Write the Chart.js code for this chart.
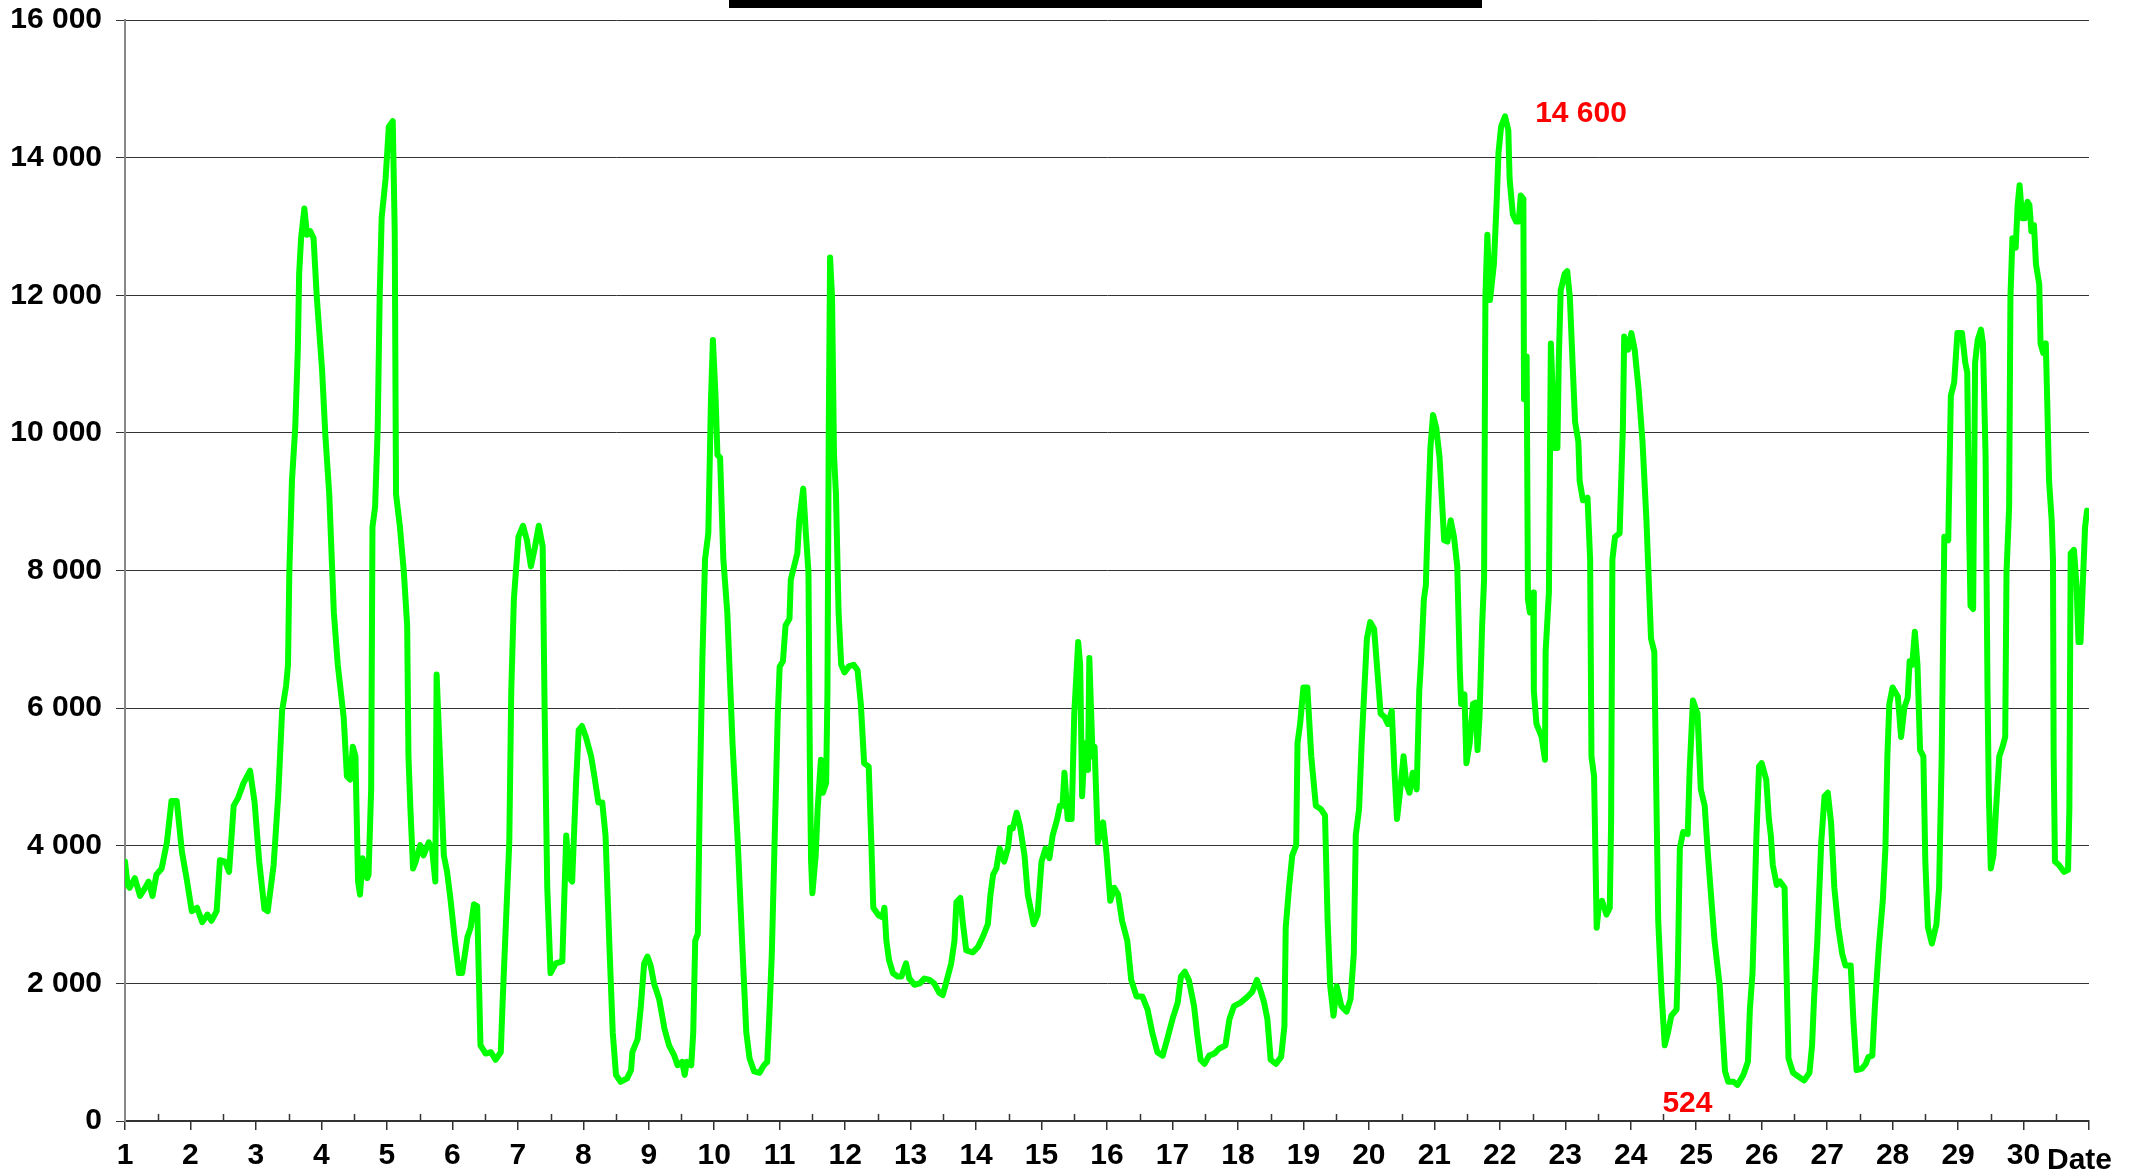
<!DOCTYPE html>
<html>
<head>
<meta charset="utf-8">
<script src="https://cdn.jsdelivr.net/npm/chart.js@4.4.1/dist/chart.umd.min.js"></script>
<style>
  html, body { margin: 0; padding: 0; background: #fff; }
</style>
</head>
<body>
<canvas id="traffic" width="2138" height="1174"></canvas>
<script>
// time of each reading, in days (1 = start of day 1)
const dayTimes = [
  1.00, 1.04, 1.07, 1.15, 1.23, 1.31, 1.36, 1.42, 1.48, 1.56, 1.64, 1.71, 1.79, 1.87, 1.94,
  2.02, 2.10, 2.18, 2.26, 2.32, 2.40, 2.45, 2.53, 2.59, 2.66, 2.73, 2.81, 2.91, 2.98,
  3.05, 3.13, 3.18, 3.27, 3.34, 3.40, 3.46, 3.49, 3.51, 3.55, 3.60, 3.64, 3.66, 3.69, 3.74, 3.78, 3.83, 3.88, 3.93,
  4.01, 4.06, 4.12, 4.19, 4.25, 4.34, 4.39, 4.44, 4.48, 4.52, 4.56, 4.59, 4.63, 4.70, 4.72, 4.76, 4.78, 4.82, 4.86, 4.89, 4.92, 4.98,
  5.03, 5.09, 5.12, 5.14, 5.20, 5.26, 5.31, 5.33, 5.36, 5.40, 5.44, 5.51, 5.56, 5.64, 5.69, 5.74, 5.76, 5.81, 5.87, 5.92, 5.97,
  6.04, 6.10, 6.15, 6.23, 6.28, 6.33, 6.38, 6.43, 6.51, 6.59, 6.66, 6.74, 6.77, 6.82, 6.87, 6.90, 6.94,
  7.01, 7.08, 7.14, 7.20, 7.26, 7.32, 7.38, 7.41, 7.45, 7.50, 7.58, 7.68, 7.71, 7.74, 7.79, 7.83, 7.89, 7.93, 7.98,
  8.04, 8.12, 8.17, 8.23, 8.29, 8.34, 8.40, 8.45, 8.50, 8.57, 8.67, 8.73, 8.75, 8.83, 8.88, 8.93, 8.98,
  9.03, 9.08, 9.16, 9.24, 9.31, 9.39, 9.44, 9.51, 9.55, 9.58, 9.65, 9.68, 9.71, 9.75, 9.78, 9.82, 9.86, 9.91, 9.95, 9.98,
  10.02, 10.05, 10.09, 10.14, 10.20, 10.28, 10.36, 10.43, 10.49, 10.54, 10.61, 10.69, 10.76, 10.81, 10.84, 10.88, 10.93, 10.97,
  11.00, 11.05, 11.09, 11.15, 11.17, 11.22, 11.27, 11.30, 11.36, 11.40, 11.44, 11.46, 11.48, 11.50, 11.55, 11.58, 11.63, 11.66, 11.71, 11.73, 11.75, 11.77, 11.80, 11.83, 11.86, 11.90, 11.94, 11.99,
  12.06, 12.13, 12.19, 12.24, 12.29, 12.36, 12.40, 12.43, 12.51, 12.57, 12.60, 12.63, 12.67, 12.73, 12.80, 12.86, 12.93, 12.98,
  13.06, 13.14, 13.21, 13.29, 13.36, 13.44, 13.49, 13.54, 13.62, 13.67, 13.70, 13.76, 13.80, 13.85, 13.95,
  14.03, 14.10, 14.18, 14.22, 14.26, 14.31, 14.36, 14.43, 14.49, 14.52, 14.56, 14.62, 14.67, 14.74, 14.79, 14.83, 14.88, 14.94,
  15.00, 15.06, 15.12, 15.17, 15.24, 15.28, 15.32, 15.35, 15.40, 15.46, 15.50, 15.56, 15.59, 15.62, 15.66, 15.71, 15.73, 15.78, 15.81, 15.86, 15.94, 15.99,
  16.05, 16.11, 16.17, 16.23, 16.31, 16.37, 16.45, 16.54, 16.62, 16.69, 16.77, 16.85, 16.92,
  17.00, 17.08, 17.13, 17.19, 17.25, 17.33, 17.38, 17.43, 17.49, 17.56, 17.64, 17.71, 17.81, 17.87, 17.94,
  18.04, 18.15, 18.22, 18.29, 18.35, 18.40, 18.45, 18.50, 18.58, 18.66, 18.71, 18.73, 18.78, 18.83, 18.89, 18.91, 18.95,
  19.00, 19.06, 19.12, 19.19, 19.27, 19.33, 19.37, 19.41, 19.46, 19.51, 19.58, 19.66, 19.72, 19.77, 19.80, 19.85, 19.89, 19.93, 19.97,
  20.02, 20.08, 20.13, 20.18, 20.24, 20.29, 20.35, 20.39, 20.43, 20.48, 20.53, 20.57, 20.62, 20.67, 20.73, 20.77, 20.80, 20.84, 20.87, 20.90, 20.94, 20.98,
  21.03, 21.08, 21.15, 21.20, 21.25, 21.30, 21.35, 21.39, 21.41, 21.46, 21.49, 21.54, 21.59, 21.63, 21.66, 21.69, 21.73, 21.76, 21.78, 21.81, 21.85, 21.91, 21.95, 21.98,
  22.02, 22.08, 22.13, 22.15, 22.20, 22.25, 22.29, 22.32, 22.36, 22.37, 22.41, 22.43, 22.46, 22.51, 22.52, 22.56, 22.64, 22.69, 22.70, 22.75, 22.78, 22.81, 22.84, 22.88, 22.90, 22.93, 22.99,
  23.03, 23.07, 23.12, 23.15, 23.20, 23.22, 23.27, 23.34, 23.38, 23.40, 23.44, 23.48, 23.51, 23.56, 23.63, 23.68, 23.70, 23.72, 23.76, 23.83, 23.88, 23.90, 23.96,
  24.01, 24.06, 24.12, 24.18, 24.24, 24.31, 24.36, 24.39, 24.42, 24.47, 24.52, 24.57, 24.62, 24.70, 24.72, 24.75, 24.80, 24.87, 24.90, 24.95,
  25.02, 25.07, 25.13, 25.18, 25.28, 25.36, 25.44, 25.49, 25.57, 25.63, 25.72, 25.79, 25.82, 25.86, 25.89, 25.92, 25.96,
  26.00, 26.07, 26.11, 26.14, 26.17, 26.23, 26.28, 26.35, 26.38, 26.41, 26.48, 26.57, 26.65, 26.73, 26.77, 26.80, 26.85, 26.91, 26.96,
  27.01, 27.06, 27.11, 27.17, 27.23, 27.28, 27.36, 27.40, 27.45, 27.53, 27.59, 27.63, 27.69, 27.73, 27.79, 27.85, 27.89, 27.92, 27.95,
  28.00, 28.08, 28.13, 28.18, 28.23, 28.26, 28.30, 28.34, 28.38, 28.42, 28.47, 28.50, 28.54, 28.60, 28.67, 28.71, 28.75, 28.79, 28.85, 28.89, 28.94, 28.99,
  29.06, 29.11, 29.14, 29.17, 29.19, 29.23, 29.26, 29.30, 29.35, 29.38, 29.42, 29.45, 29.47, 29.50, 29.54, 29.58, 29.63, 29.68, 29.72, 29.74, 29.78, 29.80, 29.83, 29.88, 29.91, 29.94, 29.98,
  30.02, 30.06, 30.09, 30.12, 30.16, 30.19, 30.24, 30.26, 30.30, 30.34, 30.36, 30.39, 30.43, 30.45, 30.46, 30.48, 30.54, 30.62, 30.68, 30.70, 30.72, 30.77, 30.81, 30.84, 30.87, 30.90, 30.94, 30.97, 31.00
];

// reading at each of those times
const trafficValues = [
  3770, 3430, 3390, 3530, 3270, 3390, 3480, 3270, 3580, 3670, 4050, 4650, 4650, 3910, 3530,
  3050, 3100, 2890, 3000, 2910, 3050, 3790, 3770, 3620, 4580, 4700, 4910, 5090, 4630,
  3770, 3080, 3050, 3720, 4720, 5960, 6320, 6630, 7970, 9300, 10070, 11210, 12310, 12830, 13260, 12880, 12930, 12830, 11970,
  10920, 9970, 9110, 7390, 6630, 5870, 5010, 4960, 5440, 5300, 3480, 3290, 3820, 3530, 3580, 4820, 8630, 8920, 10070, 11970, 13120, 13690,
  14450, 14530, 12930, 9110, 8630, 7970, 7200, 5300, 4530, 3670, 3770, 4010, 3860, 4050, 3960, 3480, 6490, 5300, 3860, 3620, 3240,
  2620, 2150, 2150, 2670, 2810, 3150, 3120, 1100, 980, 1000, 890, 1000, 1770, 2910, 4050, 6250, 7580,
  8490, 8650, 8440, 8060, 8330, 8650, 8350, 5960, 3390, 2150, 2290, 2320, 3240, 4150, 3530, 3480, 4910, 5680, 5740,
  5580, 5300, 5010, 4630, 4630, 4150, 2530, 1290, 670, 570, 620, 740, 1000, 1190, 1670, 2290, 2390,
  2260, 2000, 1770, 1340, 1100, 950, 810, 860, 670, 860, 810, 1290, 2620, 2720, 4720, 6730, 8160, 8540, 10450, 11350,
  10540, 9680, 9640, 8160, 7390, 5490, 4050, 2530, 1290, 910, 720, 700, 810, 860, 1480, 2430, 4340, 5870,
  6600, 6680, 7200, 7300, 7870, 8060, 8250, 8730, 9190, 8540, 7970, 5300, 3770, 3310, 3860, 4530, 5250, 4770, 4910, 6250, 10070, 12550, 11970, 9680, 9110, 7390, 6630, 6520,
  6610, 6630, 6550, 6060, 5200, 5150, 4050, 3100, 2990, 2960, 3100, 2620, 2340, 2150, 2100, 2100, 2290, 2070,
  1980, 2000, 2070, 2050, 2000, 1860, 1830, 2000, 2290, 2620, 3180, 3240, 2860, 2480, 2450,
  2530, 2670, 2860, 3290, 3580, 3670, 3960, 3770, 3980, 4260, 4250, 4480, 4290, 3860, 3290, 3100, 2860, 3000,
  3770, 3960, 3820, 4150, 4390, 4580, 4580, 5060, 4390, 4390, 5920, 6960, 6630, 4720, 5490, 5100, 6730, 5300, 5440, 4050, 4340, 3910,
  3200, 3390, 3290, 2910, 2620, 2050, 1810, 1810, 1620, 1290, 1000, 950, 1190,
  1480, 1720, 2100, 2170, 2050, 1670, 1240, 890, 830, 950, 980, 1050, 1100, 1480, 1670,
  1720, 1810, 1880, 2050, 1880, 1720, 1480, 890, 830, 930, 1380, 2810, 3390, 3860, 4010, 5490, 5770,
  6300, 6300, 5300, 4580, 4530, 4440, 2910, 1960, 1530, 1960, 1670, 1590, 1770, 2430, 4150, 4530, 5490, 6250, 7010,
  7250, 7150, 6540, 5920, 5870, 5770, 5960, 5100, 4390, 4820, 5300, 4910, 4770, 5060, 4820, 6250, 6730, 7580, 7780, 8730, 9780, 10260,
  10070, 9640, 8440, 8420, 8730, 8490, 8060, 6540, 6060, 6200, 5200, 5490, 6060, 6080, 5390, 5870, 7200, 7870, 11970, 12880, 11930, 12450, 13310, 14070,
  14450, 14600, 14400, 13690, 13170, 13070, 13070, 13450, 13400, 10490, 11110, 7580, 7390, 7680, 6250, 5770, 5580, 5250, 6820, 7680, 11300, 10540, 9780, 9780, 11020, 12070, 12310,
  12350, 11970, 10830, 10160, 9870, 9300, 9020, 9060, 8160, 5300, 5010, 2810, 3100, 3200, 3000, 3100, 4340, 8160, 8490, 8540, 10070, 11400, 11210,
  11450, 11210, 10640, 9870, 8730, 7010, 6820, 4820, 2910, 1860, 1100, 1290, 1530, 1620, 2240, 3960, 4200, 4170, 5100, 6110,
  5920, 4820, 4580, 3860, 2620, 1960, 720, 570, 570, 524, 670, 860, 1620, 2150, 3100, 4150, 5150,
  5200, 4960, 4390, 4150, 3720, 3430, 3480, 3390, 2150, 910, 700, 640, 590, 700, 1100, 1770, 2620, 4050, 4720,
  4770, 4340, 3390, 2810, 2430, 2260, 2260, 1480, 740, 760, 830, 930, 950, 1670, 2530, 3200, 3960, 5300, 6060,
  6300, 6170, 5580, 6010, 6150, 6680, 6630, 7110, 6630, 5390, 5300, 3770, 2810, 2580, 2860, 3390, 5300, 8490, 8440, 10540, 10730, 11450,
  11450, 11020, 10880, 8540, 7490, 7440, 11020, 11350, 11500, 11300, 9680, 6250, 4720, 3670, 3860, 4530, 5300, 5440, 5580, 7970, 8920, 11970, 12830, 12690, 13310, 13600, 13120,
  13120, 13360, 13310, 12930, 13020, 12450, 12160, 11300, 11160, 11300, 10540, 9300, 8730, 8160, 5300, 3770, 3720, 3620, 3650, 4530, 8250, 8300, 7780, 6960, 6960, 7680, 8630, 8870, 8840
];

const yTicks = [0, 2000, 4000, 6000, 8000, 10000, 12000, 14000, 16000];
const dayTicks = [1, 2, 3, 4, 5, 6, 7, 8, 9, 10, 11, 12, 13, 14, 15, 16, 17, 18, 19, 20, 21, 22, 23, 24, 25, 26, 27, 28, 29, 30];

const peakPoint = { day: 22.08, value: 14600, text: '14 600' };
const lowPoint = { day: 25.63, value: 524, text: '524' };
const axisTitle = 'Date';

const FONT = "'Liberation Sans', Arial, sans-serif";

function spaced(v) {
  return String(v).replace(/\B(?=(\d{3})+(?!\d))/g, ' ');
}

const points = dayTimes.map((d, i) => ({ x: d, y: trafficValues[i] }));

const extrasPlugin = {
  id: 'extras',
  afterDraw(chart) {
    const ctx = chart.ctx;
    const x = chart.scales.x;
    const y = chart.scales.y;
    ctx.save();

    // half-day ticks, pointing up into the plot
    ctx.strokeStyle = '#333';
    ctx.lineWidth = 1.5;
    for (let i = 0; i < dayTicks.length; i++) {
      const px = Math.round(x.getPixelForValue(dayTicks[i] + 0.5)) + 0.5;
      ctx.beginPath();
      ctx.moveTo(px, y.bottom);
      ctx.lineTo(px, y.bottom - 7);
      ctx.stroke();
    }

    // max / min labels
    ctx.fillStyle = '#ff0000';
    ctx.font = 'bold 30px ' + FONT;
    ctx.textAlign = 'center';
    ctx.textBaseline = 'middle';
    ctx.fillText(peakPoint.text, x.getPixelForValue(peakPoint.day) + 76, y.getPixelForValue(peakPoint.value) - 3);
    ctx.fillText(lowPoint.text, x.getPixelForValue(lowPoint.day) - 50, y.getPixelForValue(lowPoint.value) + 19);

    // axis title
    ctx.fillStyle = '#000';
    ctx.font = 'bold 30px ' + FONT;
    ctx.textAlign = 'left';
    ctx.fillText(axisTitle, 2047, 1161);

    // clipped title bar at the top edge
    ctx.fillStyle = '#000';
    ctx.fillRect(729, 0, 753, 8);

    ctx.restore();
  }
};

const ctx = document.getElementById('traffic').getContext('2d');
new Chart(ctx, {
  type: 'line',
  data: {
    datasets: [{
      data: points,
      borderColor: '#00ff00',
      borderWidth: 6,
      pointRadius: 0,
      tension: 0,
      borderJoinStyle: 'round',
      borderCapStyle: 'round'
    }]
  },
  options: {
    responsive: false,
    animation: false,
    devicePixelRatio: 1,
    layout: { padding: { top: 20, right: 49, left: 0, bottom: 0 } },
    plugins: {
      legend: { display: false },
      tooltip: { enabled: false }
    },
    scales: {
      x: {
        type: 'linear',
        min: 1,
        max: 31,
        afterFit: (s) => { s.height = 53; s.paddingLeft = 0; s.paddingRight = 0; },
        afterBuildTicks: (s) => { s.ticks = dayTicks.concat([31]).map(v => ({ value: v })); },
        border: { color: '#333', width: 2 },
        grid: { drawOnChartArea: false, drawTicks: true, tickLength: 9, color: '#333', lineWidth: 1.5 },
        ticks: {
          autoSkip: false,
          maxRotation: 0,
          padding: 8,
          color: '#000',
          font: { family: FONT, size: 30, weight: 'bold' },
          callback: (v) => (dayTicks.includes(v) ? String(v) : '')
        }
      },
      y: {
        min: 0,
        max: 16000,
        afterFit: (s) => { s.width = 125; s.paddingTop = 0; s.paddingBottom = 0; },
        afterBuildTicks: (s) => { s.ticks = yTicks.map(v => ({ value: v })); },
        border: { color: '#888', width: 2 },
        grid: { color: '#333', lineWidth: 1, tickLength: 9 },
        ticks: {
          padding: 14,
          color: '#000',
          font: { family: FONT, size: 30, weight: 'bold' },
          callback: (v) => spaced(v)
        }
      }
    }
  },
  plugins: [extrasPlugin]
});
</script>
</body>
</html>
